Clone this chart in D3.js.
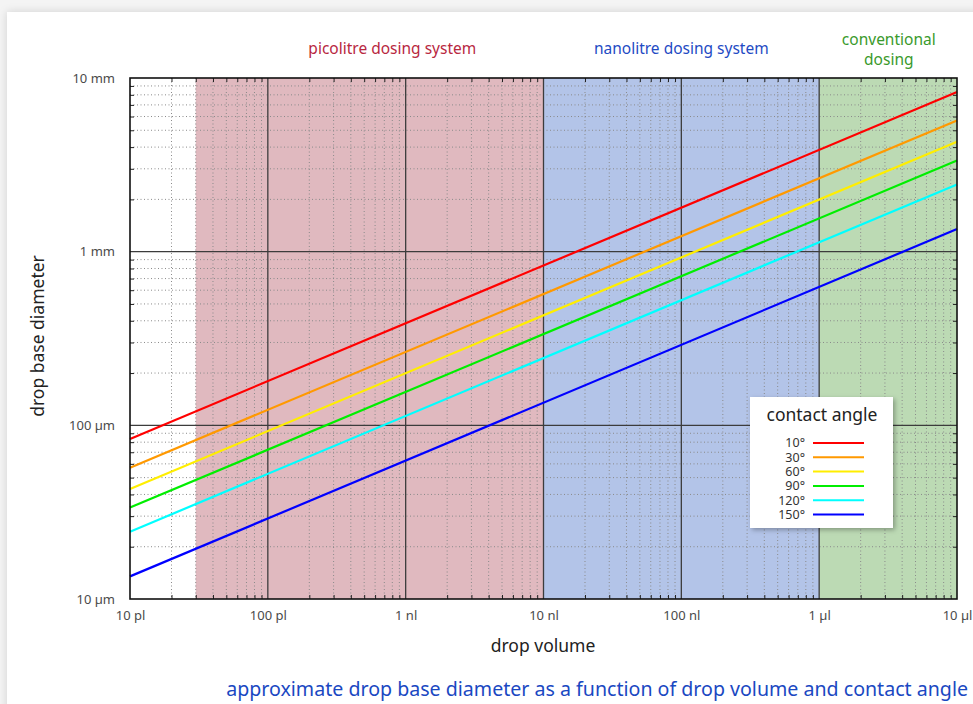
<!DOCTYPE html>
<html>
<head>
<meta charset="utf-8">
<script src="https://cdn.jsdelivr.net/npm/d3@7"></script>
<style>
  html, body { margin: 0; padding: 0; background: #f4f4f4; }
  body { width: 973px; height: 704px; overflow: hidden; font-family: "Noto Sans", Lato, sans-serif; }
  svg { display: block; }
</style>
</head>
<body>
<div id="chart"></div>
<script>
// axis ticks (volume in pl, diameter in µm)
const volumeTicks = [10, 100, 1e3, 1e4, 1e5, 1e6, 1e7];
const volumeTickLabels = ["10 pl", "100 pl", "1 nl", "10 nl", "100 nl", "1 µl", "10 µl"];
const diameterTicks = [10, 100, 1000, 10000];
const diameterTickLabels = ["10 µm", "100 µm", "1 mm", "10 mm"];

// dosing regions
const regionNames = [["picolitre dosing system"], ["nanolitre dosing system"], ["conventional", "dosing"]];
const regionStart = [30, 1e4, 1e6];
const regionEnd = [1e4, 1e6, 1e7];
const regionLabelAt = [800, 1e5, 3.2e6];
const regionFill = ["#e0b9bf", "#b3c4e8", "#bcdab4"];
const regionText = ["#b8283f", "#1f4bc4", "#3a9a2c"];

// series: drop base diameter (µm) read at 10 pl and 10 µl
const angles = ["10°", "30°", "60°", "90°", "120°", "150°"];
const lineColors = ["#ff0000", "#ff9900", "#ffee00", "#00ee00", "#00ffff", "#0000ff"];
const volumeEnds = [10, 1e7];
const diam10 = [83.5, 8300];
const diam30 = [57, 5700];
const diam60 = [43, 4300];
const diam90 = [33.6, 3350];
const diam120 = [24.4, 2440];
const diam150 = [13.5, 1350];
const series = [diam10, diam30, diam60, diam90, diam120, diam150];

const W = 973, H = 704;
const margin = {top: 78, right: 16, bottom: 105, left: 130};
const width = 957 - margin.left, height = 599 - margin.top;
const font = "'Noto Sans', Lato, sans-serif";

const svg = d3.select("#chart").append("svg")
  .attr("width", W).attr("height", H)
  .attr("font-family", font);

const defs = svg.append("defs");
const shadow = defs.append("filter").attr("id", "shadow")
  .attr("x", "-10%").attr("y", "-10%").attr("width", "130%").attr("height", "130%");
shadow.append("feDropShadow").attr("dx", 0).attr("dy", 0).attr("stdDeviation", 4)
  .attr("flood-color", "#000").attr("flood-opacity", 0.15);
const shadow2 = defs.append("filter").attr("id", "shadow2")
  .attr("x", "-20%").attr("y", "-20%").attr("width", "140%").attr("height", "140%");
shadow2.append("feDropShadow").attr("dx", 2).attr("dy", 2).attr("stdDeviation", 2.5)
  .attr("flood-color", "#000").attr("flood-opacity", 0.3);

// white card
svg.append("rect").attr("x", 7).attr("y", 12).attr("width", W + 20).attr("height", H + 20)
  .attr("fill", "#fff").attr("filter", "url(#shadow)");

const g = svg.append("g").attr("transform", `translate(${margin.left},${margin.top})`);

const x = d3.scaleLog().domain([10, 1e7]).range([0, width]);
const y = d3.scaleLog().domain([10, 10000]).range([height, 0]);

// regions
g.selectAll("rect.region").data(regionStart).enter().append("rect")
  .attr("x", d => x(d))
  .attr("y", 0)
  .attr("width", (d, i) => x(regionEnd[i]) - x(d))
  .attr("height", height)
  .attr("fill", (d, i) => regionFill[i]);

// minor values
const minorX = [], minorY = [];
volumeTicks.slice(0, -1).forEach(d => { for (let k = 2; k < 10; k++) minorX.push(d * k); });
diameterTicks.slice(0, -1).forEach(d => { for (let k = 2; k < 10; k++) minorY.push(d * k); });

// minor grid
g.selectAll("line.mgx").data(minorX).enter().append("line")
  .attr("x1", d => x(d)).attr("x2", d => x(d)).attr("y1", 0).attr("y2", height)
  .attr("stroke", "#8a8a8a").attr("stroke-width", 1).attr("stroke-dasharray", "1,2.5");
g.selectAll("line.mgy").data(minorY).enter().append("line")
  .attr("y1", d => y(d)).attr("y2", d => y(d)).attr("x1", 0).attr("x2", width)
  .attr("stroke", "#8a8a8a").attr("stroke-width", 1).attr("stroke-dasharray", "1,2.5");

// major grid
g.selectAll("line.gx").data(volumeTicks.slice(1, -1)).enter().append("line")
  .attr("x1", d => x(d)).attr("x2", d => x(d)).attr("y1", 0).attr("y2", height)
  .attr("stroke", "#3c3c3c").attr("stroke-width", 1.3);
g.selectAll("line.gy").data(diameterTicks.slice(1, -1)).enter().append("line")
  .attr("y1", d => y(d)).attr("y2", d => y(d)).attr("x1", 0).attr("x2", width)
  .attr("stroke", "#3c3c3c").attr("stroke-width", 1.3);

// lines
const line = d3.line().x(d => x(d[0])).y(d => y(d[1]));
g.selectAll("path.series").data(series).enter().append("path")
  .attr("d", d => line(volumeEnds.map((v, i) => [v, d[i]])))
  .attr("fill", "none")
  .attr("stroke", (d, i) => lineColors[i])
  .attr("stroke-width", 2.2);

// minor ticks on all edges
function minorAxis(axis, vals) {
  return axis.tickValues(vals).tickSize(-4).tickFormat("");
}
const tickStyle = sel => { sel.select(".domain").remove(); sel.selectAll("line").attr("stroke", "#222"); };
g.append("g").attr("transform", `translate(0,${height})`).call(minorAxis(d3.axisBottom(x), minorX)).call(tickStyle);
g.append("g").call(minorAxis(d3.axisTop(x), minorX)).call(tickStyle);
g.append("g").call(minorAxis(d3.axisLeft(y), minorY)).call(tickStyle);
g.append("g").attr("transform", `translate(${width},0)`).call(minorAxis(d3.axisRight(y), minorY)).call(tickStyle);

// border
g.append("rect").attr("width", width).attr("height", height)
  .attr("fill", "none").attr("stroke", "#111").attr("stroke-width", 1.6);

// tick labels via axes
const xAxis = g.append("g").attr("transform", `translate(0,${height})`)
  .call(d3.axisBottom(x).tickValues(volumeTicks).tickSize(0).tickPadding(12)
    .tickFormat((d, i) => volumeTickLabels[i]));
const yAxis = g.append("g")
  .call(d3.axisLeft(y).tickValues(diameterTicks).tickSize(0).tickPadding(15)
    .tickFormat((d, i) => diameterTickLabels[i]));
[xAxis, yAxis].forEach(a => {
  a.select(".domain").remove();
  a.selectAll("text").attr("font-family", font).attr("font-size", 13).attr("fill", "#4a4a4a");
});

// region titles
regionNames.forEach((lines, i) => {
  const t = g.append("text")
    .attr("x", x(regionLabelAt[i]))
    .attr("y", lines.length > 1 ? -33 : -24)
    .attr("text-anchor", "middle")
    .attr("font-size", 15.5)
    .attr("fill", regionText[i]);
  lines.forEach((s, j) => t.append("tspan").attr("x", x(regionLabelAt[i])).attr("dy", j ? 20 : 0).text(s));
});

// axis titles
svg.append("text").attr("x", 543).attr("y", 652).attr("text-anchor", "middle")
  .attr("font-size", 17.5).attr("fill", "#222").text("drop volume");
svg.append("text").attr("transform", "translate(44,336) rotate(-90)").attr("text-anchor", "middle")
  .attr("font-size", 17.5).attr("fill", "#222").text("drop base diameter");

// caption
svg.append("text").attr("x", 968).attr("y", 696).attr("text-anchor", "end")
  .attr("font-size", 19.6).attr("fill", "#1a48c2")
  .text("approximate drop base diameter as a function of drop volume and contact angle");

// legend
const leg = svg.append("g").attr("transform", "translate(750,397)");
leg.append("rect").attr("width", 143).attr("height", 131).attr("fill", "#fff").attr("filter", "url(#shadow2)");
leg.append("text").attr("x", 72).attr("y", 24).attr("text-anchor", "middle")
  .attr("font-size", 17.5).attr("fill", "#222").text("contact angle");
const rows = leg.selectAll("g.row").data(angles).enter().append("g")
  .attr("transform", (d, i) => `translate(0,${46 + i * 14.3})`);
rows.append("text").attr("x", 55).attr("dy", "0.35em").attr("text-anchor", "end")
  .attr("font-size", 12.5).attr("fill", "#333").text(d => d);
rows.append("line").attr("x1", 63).attr("x2", 114)
  .attr("stroke", (d, i) => lineColors[i]).attr("stroke-width", 2);
</script>
</body>
</html>
